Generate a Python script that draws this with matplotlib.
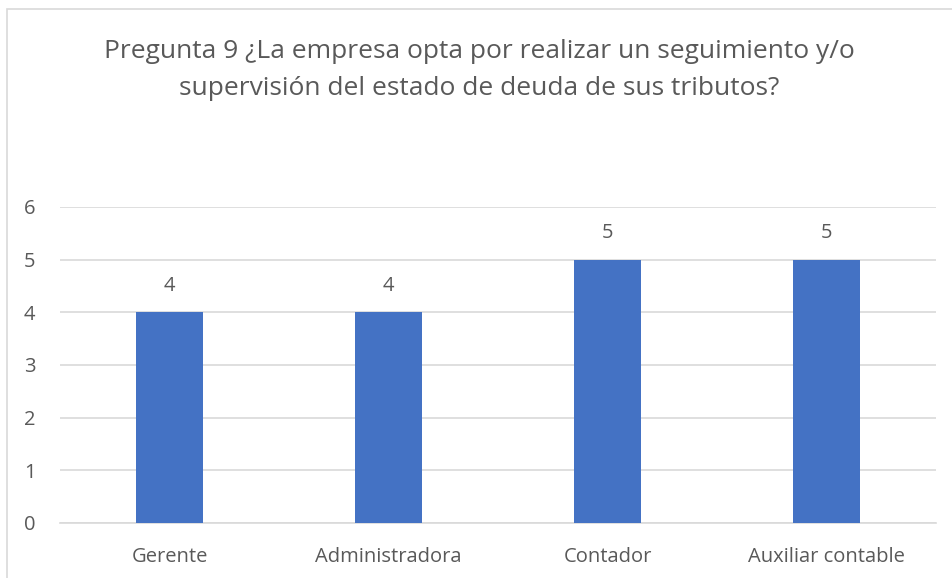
import matplotlib
matplotlib.use("Agg")
import matplotlib.pyplot as plt
from matplotlib.patches import Rectangle

categories = ["Gerente", "Administradora", "Contador", "Auxiliar contable"]
values = [4, 4, 5, 5]
title = "Pregunta 9 ¿La empresa opta por realizar un seguimiento y/o\nsupervisión del estado de deuda de sus tributos?"

plt.rcParams['font.family'] = ['Open Sans', 'DejaVu Sans']
txt = "#595959"

fig = plt.figure(figsize=(9.52, 5.78), dpi=100)
fig.patches.append(Rectangle((7/952, -0.1), 2, 1 - 9/578 + 0.1, transform=fig.transFigure,
                             fill=False, edgecolor="#d9d9d9", linewidth=1.2))
ax = fig.add_axes([60/952, 1 - 523/578, 876/952, (523 - 207)/578])
x = range(len(categories))
bars = ax.bar(x, values, width=0.31, color="#4472c4", zorder=3)
for b, v in zip(bars, values):
    ax.text(b.get_x() + b.get_width()/2, v + 0.31, str(v), ha="center", va="bottom",
            fontsize=14.5, color=txt)
ax.set_xlim(-0.5, len(categories) - 0.5)
ax.set_ylim(0, 6)
ax.set_yticks(range(0, 7))
ax.set_xticks(list(x))
ax.set_xticklabels(categories)
ax.tick_params(axis="both", length=0, labelsize=14.5, colors=txt)
ax.tick_params(axis="x", pad=17)
ax.tick_params(axis="y", pad=26)
for lab in ax.get_yticklabels():
    lab.set_horizontalalignment("left")
ax.yaxis.grid(True, color="#d9d9d9", linewidth=1.2, zorder=0)
for s in ["top", "right", "left"]:
    ax.spines[s].set_visible(False)
ax.spines["bottom"].set_color("#d9d9d9")
ax.spines["bottom"].set_linewidth(1.2)
fig.text(479/952, 1 - 70/578, title, ha="center", va="center", fontsize=19,
         color=txt, linespacing=1.6)
fig.savefig("out.png", dpi=100)
